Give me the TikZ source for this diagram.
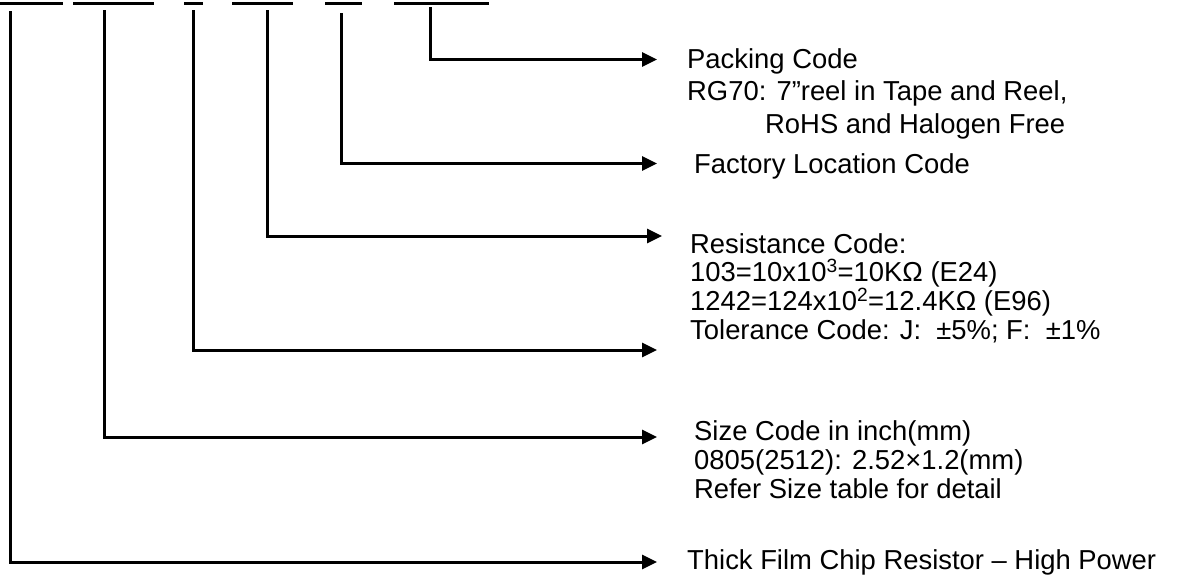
\documentclass[tikz,border=0pt]{standalone}
\usepackage{fontspec}
\setmainfont{Liberation Sans}
\usetikzlibrary{arrows.meta}

\begin{document}
\begin{tikzpicture}[x=1pt, y=-1pt,
  lead/.style={line width=3pt, -{Triangle[length=15pt, width=14pt]}},
  note/.style={anchor=base west, inner sep=0pt, align=left, font=\fontsize{27.4}{29}\selectfont}]
\useasboundingbox (0,0) rectangle (1179,582);
\foreach \a/\b in {0/63, 73/154, 184/203, 232/293, 325/362, 394/489}
  \draw[line width=3pt] (\a,3.3) -- (\b,3.3);
\coordinate (serfoot) at (10,11);
\coordinate (sizefoot) at (104,10);
\coordinate (tolfoot) at (193,10);
\coordinate (resfoot) at (267,10);
\coordinate (factfoot) at (341,13);
\coordinate (packfoot) at (430,7);
\coordinate (packtip) at (657,59.5);
\coordinate (facttip) at (657,163.5);
\coordinate (restip) at (662,236);
\coordinate (toltip) at (657,350);
\coordinate (sizetip) at (657,437);
\coordinate (sertip) at (657,562);
\node[note, font=\fontsize{27.4}{32.5}\selectfont] (pack) at (687,133) {Packing Code\\RG70: 7”reel in Tape and Reel,\\\hspace*{78pt}RoHS and Halogen Free};
\node[note] (fact) at (694,173) {Factory Location Code};
\node[note, font=\fontsize{27.4}{28.6}\selectfont] (res) at (690,339) {Resistance Code:\\103=10x10\textsuperscript{3}=10KΩ (E24)\\1242=124x10\textsuperscript{2}=12.4KΩ (E96)\\Tolerance Code: J:~ ±5\%; F:~ ±1\%};
\node[note] (size) at (694,498) {Size Code in inch(mm)\\0805(2512): 2.52×1.2(mm)\\Refer Size table for detail};
\node[note] (ser) at (687,569) {Thick Film Chip Resistor – High Power};
\draw[lead] (packfoot) |- (packtip);
\draw[lead] (factfoot) |- (facttip);
\draw[lead] (resfoot) |- (restip);
\draw[lead] (tolfoot) |- (toltip);
\draw[lead] (sizefoot) |- (sizetip);
\draw[lead] (serfoot) |- (sertip);
\end{tikzpicture}
\end{document}
